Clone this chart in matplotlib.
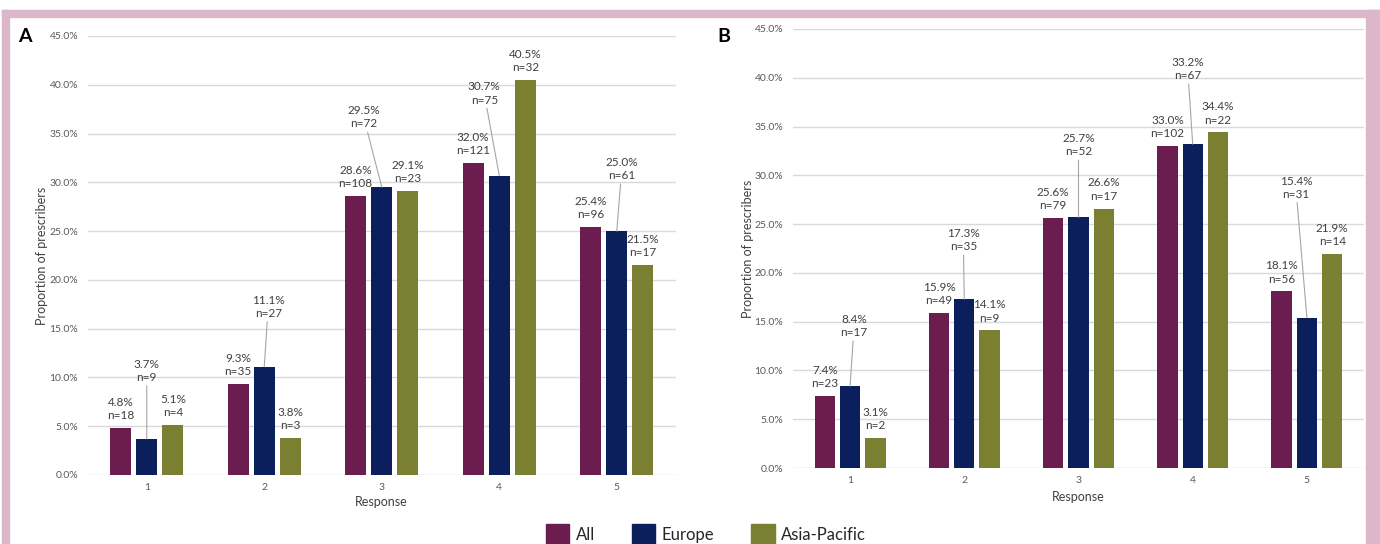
import numpy as np
import matplotlib.pyplot as plt
from matplotlib.patches import Rectangle, Patch

plt.rcParams['font.family'] = ['Lato', 'DejaVu Sans']

# data (percent and counts)
responses = ['1', '2', '3', '4', '5']
series = ['All', 'Europe', 'Asia-Pacific']
colors = ['#6b1d4f', '#0b1f5c', '#7a7f32']

a_all = [4.8, 9.3, 28.6, 32.0, 25.4]
a_all_n = [18, 35, 108, 121, 96]
a_eur = [3.7, 11.1, 29.5, 30.7, 25.0]
a_eur_n = [9, 27, 72, 75, 61]
a_ap = [5.1, 3.8, 29.1, 40.5, 21.5]
a_ap_n = [4, 3, 23, 32, 17]

b_all = [7.4, 15.9, 25.6, 33.0, 18.1]
b_all_n = [23, 49, 79, 102, 56]
b_eur = [8.4, 17.3, 25.7, 33.2, 15.4]
b_eur_n = [17, 35, 52, 67, 31]
b_ap = [3.1, 14.1, 26.6, 34.4, 21.9]
b_ap_n = [2, 9, 17, 22, 14]

# label offsets (pixels) for the Europe labels that sit away from the bar
a_eur_off = [(0, 68), (4, 60), (-18, 70), (-15, 82), (5, 62)]
b_eur_off = [(4, 60), (-1, 59), (0, 72), (-5, 75), (-11, 130)]

fig = plt.figure(figsize=(13.8, 5.44), dpi=100)
W, H = 1380, 544

# pink frame
pink = '#dbb7c9'
fig.patches.append(Rectangle((2 / W, 0), 7 / W, 534 / H, transform=fig.transFigure, color=pink, zorder=0))
fig.patches.append(Rectangle((2 / W, 527 / H), 1378 / W, 7 / H, transform=fig.transFigure, color=pink, zorder=0))
fig.patches.append(Rectangle((1366 / W, 0), 14 / W, 534 / H, transform=fig.transFigure, color=pink, zorder=0))

ax_a = fig.add_axes([88 / W, 69 / H, 587.5 / W, 439 / H])
ax_b = fig.add_axes([793 / W, 76 / H, 571 / W, 439 / H])

width = 0.178
stride = 0.222
x = np.arange(len(responses))


def draw_panel(ax, vals, ns, eur_off, resp_y):
    for i in range(3):
        pos = x + (i - 1) * stride
        ax.bar(pos, vals[i], width=width, color=colors[i], edgecolor='none', zorder=3)
        for j in range(len(responses)):
            txt = '%.1f%%\nn=%d' % (vals[i][j], ns[i][j])
            if i == 1:
                dx, dy = eur_off[j]
                ax.annotate(txt, xy=(pos[j], vals[i][j]), xytext=(dx, dy), textcoords='offset pixels',
                            ha='center', va='center', fontsize=8.5, color='#404040', linespacing=1.25,
                            arrowprops=dict(arrowstyle='-', color='#a6a6a6', lw=0.8, shrinkA=0, shrinkB=0))
            else:
                ax.annotate(txt, xy=(pos[j], vals[i][j]), xytext=(0, 19), textcoords='offset pixels',
                            ha='center', va='center', fontsize=8.5, color='#404040', linespacing=1.25)
    ax.set_xlim(-0.5, 4.5)
    ax.set_ylim(0, 45)
    ax.set_yticks(np.arange(0, 46, 5))
    ax.set_yticklabels(['%.1f%%' % v for v in np.arange(0, 46, 5)])
    ax.set_xticks(x)
    ax.set_xticklabels(responses)
    ax.grid(axis='y', color='#d9d9d9', lw=1)
    ax.set_axisbelow(True)
    for s in ax.spines.values():
        s.set_visible(False)
    ax.tick_params(axis='y', length=0, pad=7, labelsize=7.5, labelcolor='#595959')
    ax.tick_params(axis='x', length=0, pad=6, labelsize=7.5, labelcolor='#595959')
    ax.text(0.5, resp_y, 'Response', transform=ax.transAxes, ha='center', va='center',
            fontsize=9, color='#404040')
    ax.text(-46 / 587.5, 0.5, 'Proportion of prescribers', transform=ax.transAxes, rotation=90,
            ha='center', va='center', fontsize=9, color='#404040')


draw_panel(ax_a, [a_all, a_eur, a_ap], [a_all_n, a_eur_n, a_ap_n], a_eur_off, -27 / 439)
draw_panel(ax_b, [b_all, b_eur, b_ap], [b_all_n, b_eur_n, b_ap_n], b_eur_off, -29 / 439)

fig.text(25 / W, (544 - 36) / H, 'A', fontsize=14, fontweight='bold', ha='center', va='center')
fig.text(723.5 / W, (544 - 36) / H, 'B', fontsize=14, fontweight='bold', ha='center', va='center')

handles = [Patch(color=c) for c in colors]
fig.legend(handles, series, loc='center', bbox_to_anchor=(706 / W, 10 / H), ncol=3, frameon=False,
           fontsize=12, handlelength=1.4, handleheight=1.4, handletextpad=0.4, columnspacing=2.2,
           borderpad=0, labelcolor='#262626')

plt.savefig('out.png', dpi=100)
